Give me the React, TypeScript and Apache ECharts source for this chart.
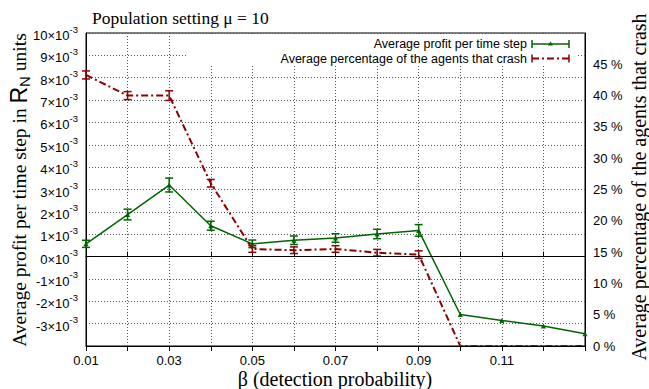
import React, { useEffect, useRef } from "react";
import * as echarts from "echarts";

const betas = ["0.01", "0.02", "0.03", "0.04", "0.05", "0.06", "0.07", "0.08", "0.09", "0.10", "0.11", "0.12", "0.13"];
const labelledBetas = ["0.01", "0.03", "0.05", "0.07", "0.09", "0.11"];
// Average profit per time step, in units of 10^-3
const profitE3 = [0.57, 1.88, 3.2, 1.38, 0.57, 0.73, 0.83, 1.01, 1.17, -2.59, -2.86, -3.11, -3.45];
const profitErrE3 = [0.16, 0.24, 0.31, 0.2, 0.17, 0.19, 0.19, 0.21, 0.26, 0, 0, 0, 0];
// Average percentage of the agents that crash
const crashPct = [43.3, 40.0, 40.0, 26.0, 15.5, 15.3, 15.5, 14.9, 14.6, 0, 0, 0, 0];
const crashErrPct = [0.64, 0.64, 0.77, 0.6, 0.53, 0.53, 0.53, 0.53, 0.6, 0, 0, 0, 0];

const GREEN = "#006400";
const RED = "#8b0000";
const SANS = '"Liberation Sans", Arial, sans-serif';
const SERIF = '"Liberation Serif", "Times New Roman", serif';

function errorBars(color: string) {
  return (_params: any, api: any) => {
    const xi = api.value(0);
    const y = api.value(1);
    const e = api.value(2);
    if (!e) return null;
    const top = api.coord([xi, y + e]);
    const bot = api.coord([xi, y - e]);
    const hw = 4;
    const st = { stroke: color, lineWidth: 1.5 };
    return {
      type: "group",
      children: [
        { type: "line", shape: { x1: top[0], y1: top[1], x2: bot[0], y2: bot[1] }, style: st },
        { type: "line", shape: { x1: top[0] - hw, y1: top[1], x2: top[0] + hw, y2: top[1] }, style: st },
        { type: "line", shape: { x1: bot[0] - hw, y1: bot[1], x2: bot[0] + hw, y2: bot[1] }, style: st },
      ],
    };
  };
}

export default function App() {
  const ref = useRef<HTMLDivElement>(null);
  useEffect(() => {
    document.body.style.margin = "0";
    const chart = echarts.init(ref.current!, null, { renderer: "svg" });
    const gridLine = { show: true, lineStyle: { color: "#555", type: [1, 2] as any, width: 1 } };
    const L1 = 44;
    const L2 = 58.5;
    const option: any = {
      animation: false,
      backgroundColor: "#fff",
      grid: { left: 86, right: 64, top: 33, bottom: 43, show: true, borderColor: "#000", borderWidth: 1, backgroundColor: "transparent" },
      xAxis: [
        {
          type: "category",
          data: betas,
          boundaryGap: false,
          axisLine: { lineStyle: { color: "#000", width: 1 } },
          axisTick: { inside: true, length: 5, interval: 0, lineStyle: { color: "#000" } },
          axisLabel: {
            interval: (_i: number, v: string) => labelledBetas.indexOf(v) >= 0,
            color: "#000",
            fontFamily: SANS,
            fontSize: 13,
            margin: 8,
          },
          splitLine: { ...gridLine, interval: 0 },
        },
        {
          type: "category",
          data: betas,
          position: "top",
          boundaryGap: false,
          z: 4,
          axisLine: { lineStyle: { color: "#000", width: 1 } },
          axisTick: { inside: true, length: 5, interval: 0, lineStyle: { color: "#000" } },
          axisLabel: { show: false },
          splitLine: { show: false },
        },
      ],
      yAxis: [
        {
          type: "value",
          min: -4,
          max: 10,
          interval: 1,
          axisLine: { show: true, lineStyle: { color: "#000" } },
          axisTick: { inside: true, length: 5, lineStyle: { color: "#000" } },
          splitLine: gridLine,
          axisLabel: {
            showMinLabel: false,
            margin: 8,
            formatter: (v: number) => `{b|${Math.round(v)}×10}{s|-3}`,
            rich: {
              b: { fontFamily: SANS, fontSize: 13, color: "#000", lineHeight: 18, verticalAlign: "bottom" },
              s: { fontFamily: SANS, fontSize: 9.5, color: "#000", lineHeight: 18, verticalAlign: "top" },
            },
          },
        },
        {
          type: "value",
          min: 0,
          max: 50,
          interval: 5,
          position: "right",
          axisLine: { show: true, lineStyle: { color: "#000" } },
          axisTick: { inside: true, length: 5, lineStyle: { color: "#000" } },
          splitLine: { show: false },
          axisLabel: {
            showMaxLabel: false,
            margin: 8,
            color: "#000",
            fontFamily: SANS,
            fontSize: 13,
            formatter: (v: number) => `${Math.round(v)} %`,
          },
        },
      ],
      series: [
        {
          type: "line",
          name: "Average profit per time step",
          yAxisIndex: 0,
          data: profitE3.map((v, i) => [i, v]),
          lineStyle: { color: GREEN, width: 1.5 },
          itemStyle: { color: GREEN },
          symbol: "triangle",
          symbolSize: 5,
          z: 3,
          markLine: {
            silent: true,
            symbol: ["none", "none"],
            label: { show: false },
            lineStyle: { color: "#000", type: "solid", width: 1 },
            data: [{ yAxis: 0 }],
          },
        },
        {
          type: "custom",
          yAxisIndex: 0,
          renderItem: errorBars(GREEN),
          data: profitE3.map((v, i) => [i, v, profitErrE3[i]]),
          encode: { x: 0, y: 1 },
          z: 3,
        },
        {
          type: "line",
          name: "Average percentage of the agents that crash",
          yAxisIndex: 1,
          data: crashPct.map((v, i) => [i, v]),
          lineStyle: { color: RED, width: 2, type: [7, 3, 2, 3] },
          itemStyle: { color: RED },
          symbol: "none",
          z: 3,
        },
        {
          type: "custom",
          yAxisIndex: 1,
          renderItem: errorBars(RED),
          data: crashPct.map((v, i) => [i, v, crashErrPct[i]]),
          encode: { x: 0, y: 1 },
          z: 3,
        },
      ],
      graphic: [
        { type: "rect", z: 1, shape: { x: 188, y: 36, width: 389, height: 28 }, style: { fill: "#fff" } },
        {
          type: "text", z: 5, x: 527, y: L1,
          style: { text: "Average profit per time step", fontFamily: SANS, fontSize: 12.5, lineHeight: 13, fill: "#000", align: "right", verticalAlign: "middle" },
        },
        {
          type: "text", z: 5, x: 527, y: L2,
          style: { text: "Average percentage of the agents that crash", fontFamily: SANS, fontSize: 12.5, lineHeight: 13, fill: "#000", align: "right", verticalAlign: "middle" },
        },
        { type: "line", z: 5, shape: { x1: 532, y1: L1, x2: 569, y2: L1 }, style: { stroke: GREEN, lineWidth: 1.5 } },
        { type: "line", z: 5, shape: { x1: 532, y1: L1 - 4, x2: 532, y2: L1 + 4 }, style: { stroke: GREEN, lineWidth: 1.5 } },
        { type: "line", z: 5, shape: { x1: 569, y1: L1 - 4, x2: 569, y2: L1 + 4 }, style: { stroke: GREEN, lineWidth: 1.5 } },
        { type: "polygon", z: 5, shape: { points: [[550.5, L1 - 2.5], [553, L1 + 1.5], [548, L1 + 1.5]] }, style: { fill: GREEN } },
        { type: "line", z: 5, shape: { x1: 532, y1: L2, x2: 569, y2: L2 }, style: { stroke: RED, lineWidth: 2, lineDash: [7, 3, 2, 3] } },
        { type: "line", z: 5, shape: { x1: 532, y1: L2 - 4, x2: 532, y2: L2 + 4 }, style: { stroke: RED, lineWidth: 1.5 } },
        { type: "line", z: 5, shape: { x1: 569, y1: L2 - 4, x2: 569, y2: L2 + 4 }, style: { stroke: RED, lineWidth: 1.5 } },
        {
          type: "text", x: 92, y: 18,
          style: { text: "Population setting μ = 10", fontFamily: SERIF, fontSize: 17.5, fill: "#000", verticalAlign: "middle" },
        },
        {
          type: "text", x: 19, y: 190, rotation: Math.PI / 2,
          style: {
            text: "{a|Average profit per time step in }{r|R}{n|N}{a| units}",
            align: "center",
            verticalAlign: "middle",
            rich: {
              a: { fontFamily: SERIF, fontSize: 19.5, fill: "#000", lineHeight: 26, verticalAlign: "middle" },
              r: { fontFamily: SANS, fontSize: 23, fill: "#000", lineHeight: 26, verticalAlign: "middle" },
              n: { fontFamily: SANS, fontSize: 15, fill: "#000", lineHeight: 26, verticalAlign: "bottom" },
            },
          },
        },
        {
          type: "text", x: 639, y: 187, rotation: Math.PI / 2,
          style: { text: "Average percentage of the agents that crash", fontFamily: SERIF, fontSize: 20, fill: "#000", align: "center", verticalAlign: "middle" },
        },
        {
          type: "text", x: 335, y: 379,
          style: { text: "β (detection probability)", fontFamily: SERIF, fontSize: 20, fill: "#000", align: "center", verticalAlign: "middle" },
        },
      ],
    };
    chart.setOption(option);
    return () => chart.dispose();
  }, []);
  return <div ref={ref} style={{ position: "fixed", left: 0, top: 0, width: 649, height: 389 }} />;
}
